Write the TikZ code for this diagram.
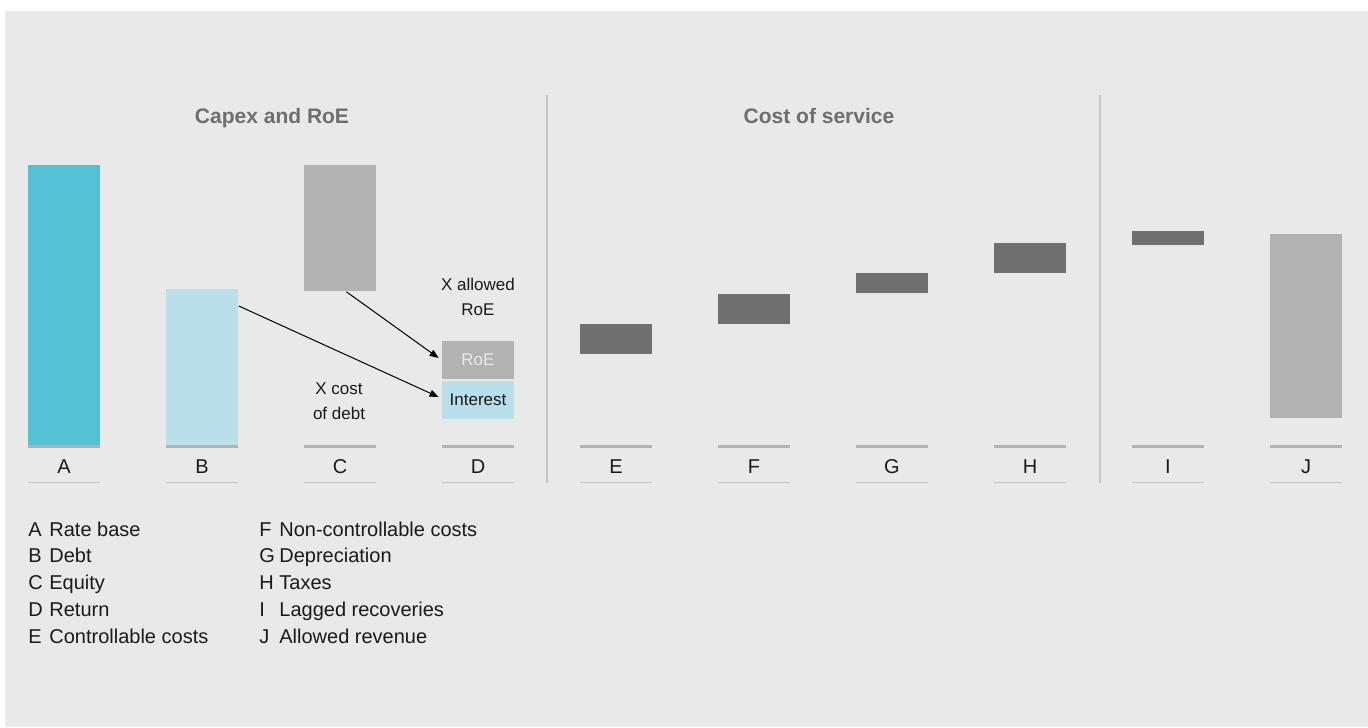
\documentclass[tikz,border=0pt]{standalone}
\usepackage{fontspec}
\setmainfont{Liberation Sans}
\usetikzlibrary{arrows.meta}

\definecolor{panelgray}{HTML}{E9E9E9}
\definecolor{rateteal}{HTML}{54C1D5}
\definecolor{debtblue}{HTML}{B9E0EA}
\definecolor{equitygray}{HTML}{B2B2B2}
\definecolor{costgray}{HTML}{6F6F6F}
\definecolor{titlegray}{HTML}{6E6E6E}
\definecolor{rulegray}{HTML}{C6C6C6}
\definecolor{inkblack}{HTML}{1A1A1A}

\begin{document}
\begin{tikzpicture}[
    x=0.5pt, y=-0.5pt,
    colbar/.style={rectangle, inner sep=0pt, anchor=north west, minimum width=36pt},
    axisbar/.style={rectangle, inner sep=0pt, fill=equitygray, minimum width=36pt, minimum height=1.5pt},
    underline/.style={rectangle, inner sep=0pt, fill=rulegray, minimum width=36pt, minimum height=0.75pt},
    collabel/.style={inner sep=0pt, text=inkblack, font=\fontsize{10}{12}\selectfont},
    paneltitle/.style={anchor=base, inner sep=0pt, text=titlegray, font=\fontsize{10.5}{12}\selectfont\bfseries},
    note/.style={align=center, inner sep=0pt, text=inkblack, font=\fontsize{8.5}{12.5}\selectfont},
    returnbox/.style={rectangle, inner sep=0pt, minimum width=36pt, minimum height=19pt, font=\fontsize{8.5}{10}\selectfont},
    legend/.style={anchor=base west, inner sep=0pt, text=inkblack, font=\fontsize{10}{13}\selectfont},
    link/.style={line width=0.5pt, -{Triangle[length=4.5pt,width=3.5pt]}},
    divider/.style={line width=0.6pt, draw=rulegray}
]
    \useasboundingbox (0,0) rectangle (1368,727);
    \fill[white] (0,0) rectangle (1368,727);
    \fill[panelgray] (5,11) rectangle (1368,727);

    % Panel titles and dividers
    \node[paneltitle] (capexTitle) at (272,123.5) {Capex and RoE};
    \node[paneltitle] (serviceTitle) at (819,123.5) {Cost of service};
    \draw[divider] (547,95) -- (547,483);
    \draw[divider] (1100,95) -- (1100,483);

    % Axis, column letters and underlines
    \foreach \l [count=\i from 0] in {A,B,C,D,E,F,G,H,I,J}{
        \pgfmathsetmacro\cx{64+138*\i}
        \node[axisbar] (axis\l) at (\cx,446.5) {};
        \node[collabel] (lab\l) at (\cx,467) {\l};
        \node[underline] (under\l) at (\cx,482.5) {};
    }

    % Capex bars
    \node[colbar, fill=rateteal, minimum height=140pt] (rateBase) at (28,165) {};
    \node[colbar, fill=debtblue, minimum height=78pt] (debt) at (166,289) {};
    \node[colbar, fill=equitygray, minimum height=63pt] (equity) at (304,165) {};

    % Return
    \node[returnbox, fill=equitygray, text=panelgray] (roe) at (478,360) {RoE};
    \node[returnbox, fill=debtblue, text=inkblack] (interest) at (478,400) {Interest};
    \node[note] (allowedRoe) at (478,296.5) {X allowed\\RoE};
    \node[note] (costDebt) at (339,401) {X cost\\of debt};

    % Cost of service bars
    \node[colbar, fill=costgray, minimum height=15pt] (ctrlCosts) at (580,324) {};
    \node[colbar, fill=costgray, minimum height=15pt] (nonCtrlCosts) at (718,294) {};
    \node[colbar, fill=costgray, minimum height=10pt] (depreciation) at (856,273) {};
    \node[colbar, fill=costgray, minimum height=15pt] (taxes) at (994,243) {};
    \node[colbar, fill=costgray, minimum height=7pt] (lagged) at (1132,231) {};
    \node[colbar, fill=equitygray, minimum height=92pt] (revenue) at (1270,234) {};

    % Links
    \draw[link] ([yshift=-8.5pt]debt.north east) -- ([xshift=-1.5pt,yshift=1.5pt]interest.west);
    \draw[link] ([xshift=3pt]equity.south) -- ([xshift=-1.5pt,yshift=1pt]roe.west);

    % Legend
    \foreach \k/\t [count=\i from 0] in {A/Rate base,B/Debt,C/Equity,D/Return,E/Controllable costs}{
        \node[legend] (key\k) at (28,{536+26.75*\i}) {\k};
        \node[legend] (desc\k) at (49,{536+26.75*\i}) {\t};
    }
    \foreach \k/\t [count=\i from 0] in {F/Non-controllable costs,G/Depreciation,H/Taxes,I/Lagged recoveries,J/Allowed revenue}{
        \node[legend] (key\k) at (259,{536+26.75*\i}) {\k};
        \node[legend] (desc\k) at (279,{536+26.75*\i}) {\t};
    }
\end{tikzpicture}
\end{document}
